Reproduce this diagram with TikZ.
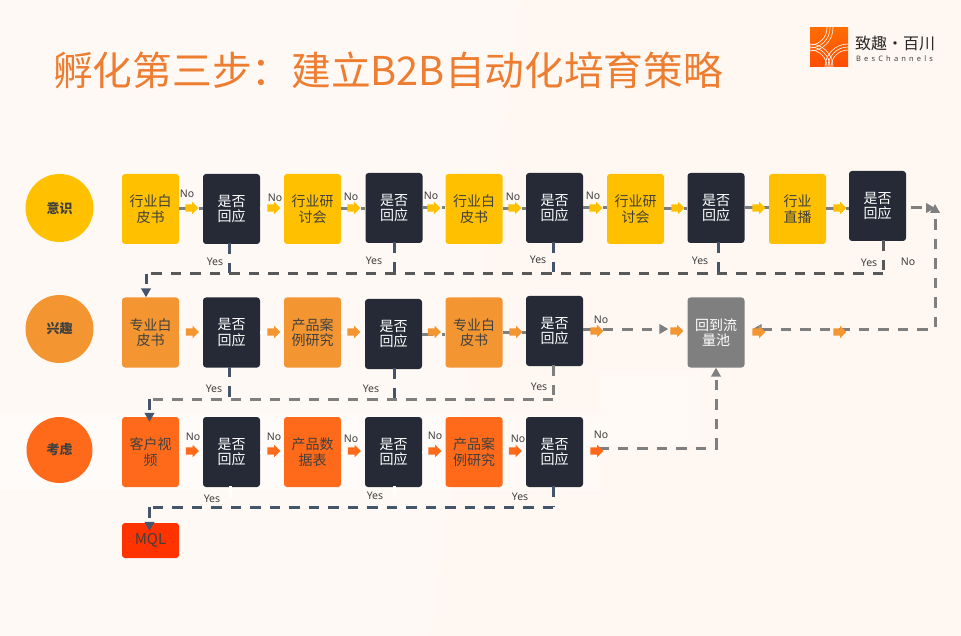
\documentclass[tikz,border=0pt]{standalone}
\usepackage{fontspec}
\setmainfont{Noto Sans CJK SC}
\newfontfamily\latinfont{Noto Sans}
\newfontfamily\logofont[LetterSpace=42]{Noto Sans}
\usetikzlibrary{positioning, arrows.meta, calc, shapes.arrows}
\definecolor{pagebg}{HTML}{FFF8F2}
\definecolor{titleorange}{HTML}{ED7D31}
\definecolor{stageyellow}{HTML}{FFC000}
\definecolor{stagetan}{HTML}{F39632}
\definecolor{stagered}{HTML}{FF6A1A}
\definecolor{mqlred}{HTML}{FF3300}
\definecolor{decidedark}{HTML}{252A36}
\definecolor{slateline}{HTML}{44546A}
\definecolor{greyline}{HTML}{7F7F7F}
\definecolor{darkline}{HTML}{595959}
\definecolor{bodytext}{HTML}{404040}
\tikzset{
	stagedot/.style={circle, inner sep=0pt, text=bodytext, font=\fontsize{13}{15}\selectfont\bfseries},
	waybox/.style={rounded corners=3pt, minimum width=57pt, minimum height=70pt, inner sep=0pt, align=center, text=bodytext, font=\fontsize{14}{15.5}\selectfont},
	decidebox/.style={waybox, fill=decidedark, text=white},
	tiparrow/.style={single arrow, minimum height=13pt, minimum width=12pt, single arrow head extend=2.5pt, inner xsep=0pt, inner ysep=3.5pt},
	flowline/.style={line width=3pt, dash pattern=on 10.5pt off 9pt},
	tag/.style={text=bodytext, inner sep=0pt, font=\latinfont\fontsize{10.5}{12}\selectfont},
	headtip/.style={-{Triangle[length=9pt,width=9.5pt]}},
}
\begin{document}
\begin{tikzpicture}[x=1pt, y=-1pt]
	\useasboundingbox (0,0) rectangle (961,636);
	\fill[pagebg] (0,0) rectangle (961,636);
	% faint backdrop
	\fill[white, opacity=0.25] (0,0) -- (520,0) -- (430,636) -- (0,636) -- cycle;
	\fill[white, opacity=0.35] (600,370) rectangle (700,445);
	\fill[white, opacity=0.35] (0,415) rectangle (600,490);
	% heading
	\node[anchor=west, inner sep=0pt, text=titleorange, font=\fontsize{39.7}{44}\selectfont] (heading) at (53,70) {孵化第三步\char"FF1A 建立B2B自动化培育策略};
	% logo
	\begin{scope}
		\clip (810,28) rectangle (848,67);
		\shade[top color=orange!85!red, bottom color=orange!60!red] (810,28) rectangle (848,67);
		\foreach \r in {17,20,23}{
			\draw[white, line width=0.6pt] (810,28) circle (\r);
			\draw[white, line width=0.6pt] (810,67) circle (\r);
			\draw[white, line width=0.6pt] (848,67) circle (\r);
		}
	\end{scope}
	\node[anchor=west, inner sep=0pt, text=black!85, font=\fontsize{16}{19}\selectfont] (logoname) at (855,43) {致趣·百川};
	\node[anchor=west, inner sep=0pt, text=black!75, font=\logofont\fontsize{7.5}{9}\selectfont] (logotag) at (856,58.5) {BesChannels};
	% stages
	\foreach \name/\y/\col/\lab/\size in {know/208/stageyellow/意识/68pt, like/329/stagetan/兴趣/68pt, weigh/450/stagered/考虑/66pt}{
		\node[stagedot, fill=\col, minimum size=\size] (\name) at (59.5,\y) {\raisebox{1pt}{\lab}};
	}
	% first row
	\foreach \name/\x/\y/\lab in {a1/150.5/209/行业白\\皮书, a3/312.5/209/行业研\\讨会, a5/474/209/行业白\\皮书, a7/635.5/209/行业研\\讨会, a9/797.5/209/行业\\直播}{
		\node[waybox, fill=stageyellow] (\name) at (\x,\y) {\lab};
	}
	\foreach \name/\x/\y in {a2/231.5/209, a4/394/208, a6/554.5/208, a8/716/208, a10/877.5/206}{
		\node[decidebox] (\name) at (\x,\y) {是否\\回应};
	}
	% second row
	\foreach \name/\x/\y/\lab in {b1/150.5/332.5/专业白\\皮书, b3/312.5/332.5/产品案\\例研究, b5/474/332.5/专业白\\皮书}{
		\node[waybox, fill=stagetan] (\name) at (\x,\y) {\lab};
	}
	\foreach \name/\x/\y in {b2/231.5/332.5, b4/393.5/334, b6/554.5/331}{
		\node[decidebox] (\name) at (\x,\y) {是否\\回应};
	}
	\node[waybox, fill=greyline, text=white] (pool) at (716,332.5) {回到流\\量池};
	% third row
	\foreach \name/\x/\lab in {c1/150.5/客户视\\频, c3/312.5/产品数\\据表, c5/474/产品案\\例研究}{
		\node[waybox, fill=stagered] (\name) at (\x,452) {\lab};
	}
	\foreach \name/\x in {c2/231.5, c4/393.5, c6/554.5}{
		\node[decidebox] (\name) at (\x,452) {是否\\回应};
	}
	\node[waybox, fill=mqlred, minimum height=35pt, font=\fontsize{15}{17}\selectfont] (mql) at (150.5,540.5) {MQL};
	% bends
	\coordinate (busa) at (146,274);
	\coordinate (busb) at (149.5,399);
	\coordinate (busc) at (149.5,507);
	\coordinate (turn) at (935,208);
	\coordinate (elbow) at (718,448);
	% step lines
	\foreach \p/\q/\col in {a1/a2/greyline, a2/a3/pagebg, a3/a4/greyline, a4/a5/greyline, a5/a6/greyline, a6/a7/greyline, a7/a8/greyline, a8/a9/greyline, a9/a10/greyline,
		b1/b2/white, b2/b3/white, b3/b4/white, b4/b5/greyline, b5/b6/greyline, c1/c2/white, c2/c3/white, c3/c4/white, c4/c5/white, c5/c6/white}{
		\draw[flowline, draw=\col] (\p.east) -- (\p.east -| \q.west);
	}
	% yes lines
	\foreach \d/\x/\bus/\col in {a2/229/busa/slateline, a4/394/busa/slateline, a6/553/busa/slateline, a8/718/busa/slateline, a10/883/busa/darkline,
		b2/229/busb/slateline, b4/394/busb/slateline, b6/553/busb/greyline, c2/230/busc/white, c4/394/busc/white, c6/553/busc/slateline}{
		\draw[flowline, draw=\col] ([yshift=1pt]\x,0 |- \d.south) -- (\x,0 |- \bus);
	}
	\draw[flowline, draw=darkline] (883,0 |- busa) -- (busa);
	\draw[flowline, draw=greyline] (553,0 |- busb) -- (busb);
	\draw[flowline, draw=slateline] (553,0 |- busc) -- (busc);
	\draw[flowline, draw=slateline, headtip] (busa) -- (busa |- b1.north);
	\draw[flowline, draw=slateline, headtip, shorten >=-5pt] (busb) -- (busb |- c1.north);
	\draw[flowline, draw=slateline, headtip, shorten >=-8pt] (busc) -- (busc |- mql.north);
	% no lines
	\draw[flowline, draw=greyline, headtip, shorten <=5pt] (a10.east |- turn) -- (turn);
	\draw[flowline, draw=greyline, {Triangle[length=9pt,width=9.5pt]}-{Triangle[length=9pt,width=9.5pt]}, shorten <=8pt, shorten >=-4pt] (pool.east |- 0,329) -| (turn);
	\draw[flowline, draw=greyline, headtip, shorten >=19pt] (b6.east |- 0,329) -- (pool.west |- 0,329);
	\draw[flowline, draw=greyline, headtip, shorten <=15pt] (c6.east |- elbow) -| (pool.south);
	% small arrows
	\foreach \name/\x/\y/\col in {
		ta1/190/208/stageyellow, ta2/272/208/stageyellow, ta3/352/208/stageyellow, ta4/432/208/stageyellow, ta5/513/208/stageyellow, ta6/594/208/stageyellow, ta7/676/208/stageyellow, ta8/757/208/stageyellow, ta9/838/208/stageyellow,
		tb1/190.5/332/stagetan, tb2/272/332/stagetan, tb3/352/332/stagetan, tb4/432.5/332/stagetan, tb5/514/332/stagetan, tb6/595/331/stagetan, tb7/675/331/stagetan, tb8/757/332/stagetan, tb9/838/332/stagetan,
		tc1/190.5/451/stagered, tc2/272/451/stagered, tc3/352.5/451/stagered, tc4/433/451/stagered, tc5/513.5/451/stagered, tc6/595/451/stagered}{
		\node[tiparrow, fill=\col] (\name) at (\x,\y) {};
	}
	% tags
	\foreach \name/\x/\y in {no1/187/194, no2/275/198, no3/351/197, no4/431/196, no5/513/197, no6/593/196, no7/908/262, no8/601/320,
		no9/193/437, no10/274/437, no11/351/439, no12/435/436, no13/518/439, no14/601/435}{
		\node[tag] (\name) at (\x,\y) {No};
	}
	\foreach \name/\x/\y in {yes1/215/262, yes2/374/261, yes3/538/260, yes4/700/261, yes5/869/263,
		yes6/214/389, yes7/371/389, yes8/539/387, yes9/212/499, yes10/375/496, yes11/520/497}{
		\node[tag] (\name) at (\x,\y) {Yes};
	}
\end{tikzpicture}
\end{document}
